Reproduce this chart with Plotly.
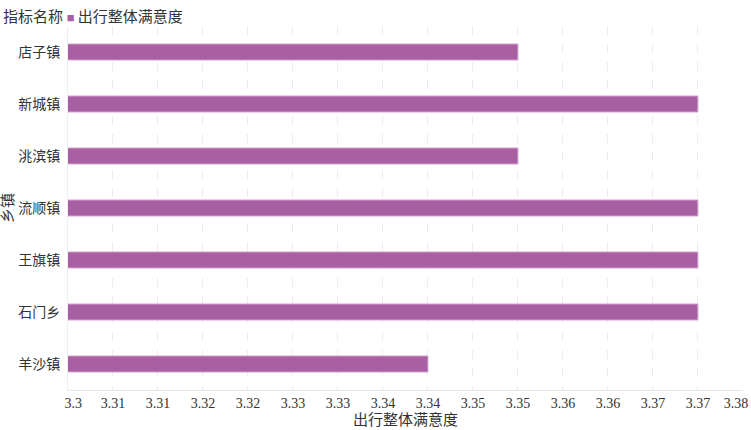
import plotly.graph_objects as go

# 乡镇 (top to bottom) y 出行整体满意度
towns = ["店子镇", "新城镇", "洮滨镇", "流顺镇", "王旗镇", "石门乡", "羊沙镇"]
satisfaction = [3.35, 3.37, 3.35, 3.37, 3.37, 3.37, 3.34]

tick_vals = [3.3 + 0.005 * i for i in range(16)]
tick_text = ["3.3", "3.31", "3.31", "3.32", "3.32", "3.33", "3.33", "3.34",
             "3.34", "3.35", "3.35", "3.36", "3.36", "3.37", "3.37", "3.38"]

series_name = "出行整体满意度"
legend_title = "指标名称"
bar_color = "#a960a3"

font_family = "'Liberation Serif', 'Noto Sans CJK SC', serif"

# edge labels pulled inward like the original (padding with nbsp)
nb = "\u00a0"
labels = list(tick_text)
labels[0] = nb * 3 + labels[0]
labels[-1] = labels[-1] + nb * 4

fig = go.Figure()
fig.add_trace(go.Bar(
    x=satisfaction,
    y=towns,
    orientation="h",
    name=series_name,
    marker=dict(color=bar_color, line=dict(color="#d7a8d3", width=1)),
))

# compact legend like the original: title, small square, series name
fig.add_annotation(
    text=(f"{legend_title} <span style='color:{bar_color};font-size:13px'>■</span>"
          f"\u2009{series_name}"),
    xref="paper", yref="paper",
    x=0, y=1, xanchor="left", yanchor="middle",
    xshift=-67, yshift=10,
    showarrow=False,
    font=dict(size=15, color="#333333"),
)

fig.update_layout(
    width=751,
    height=430,
    margin=dict(l=68, r=8, t=26, b=40),
    paper_bgcolor="white",
    plot_bgcolor="white",
    font=dict(family=font_family, size=14, color="#333333"),
    bargap=0.69,
    showlegend=False,
    xaxis=dict(
        title=dict(text=series_name, standoff=4, font=dict(size=15)),
        range=[3.3, 3.37501],
        tickvals=tick_vals,
        ticktext=labels,
        ticklabeloverflow="allow",
        showgrid=True,
        gridcolor="#ececec",
        griddash="dash",
        zeroline=False,
        showline=True,
        linecolor="#e6e6e6",
        ticks="",
        automargin=False,
    ),
    yaxis=dict(
        title=dict(text="乡镇", standoff=2, font=dict(size=15)),
        autorange="reversed",
        showgrid=False,
        showline=True,
        linecolor="#eeeeee",
        ticks="",
        ticklabelstandoff=4,
        automargin=False,
    ),
)

fig.write_html("out.html", config={"displayModeBar": False},
               post_script="document.body.style.margin='0px';")
